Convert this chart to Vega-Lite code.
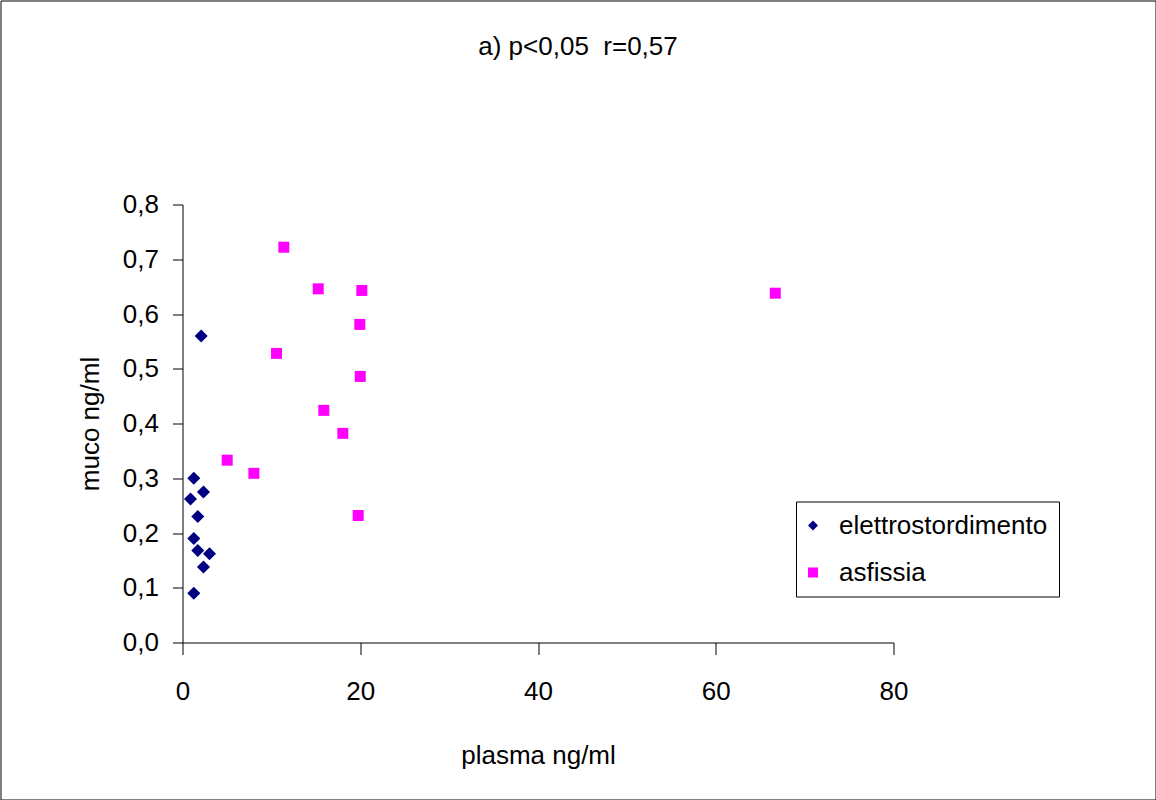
{
  "$schema": "https://vega.github.io/schema/vega-lite/v6.json",
  "width": 1155,
  "height": 799,
  "autosize": {"type": "none"},
  "padding": 0.5,
  "background": "white",
  "title": {
    "text": "a) p<0,05\u00a0 r=0,57",
    "anchor": "middle",
    "frame": "group",
    "orient": "top",
    "offset": -72,
    "baseline": "middle",
    "font": "Liberation Sans",
    "fontSize": 26,
    "fontWeight": "normal",
    "color": "black"
  },
  "config": {
    "view": {"stroke": "black", "strokeWidth": 1},
    "axis": {
      "grid": false,
      "domainColor": "black",
      "tickColor": "black",
      "labelColor": "black",
      "titleColor": "black",
      "labelFont": "Liberation Sans",
      "titleFont": "Liberation Sans",
      "labelFontSize": 26,
      "titleFontSize": 26,
      "titleFontWeight": "normal",
      "labelFlush": false,
      "labelOverlap": false
    },
    "legend": {
      "labelFont": "Liberation Sans",
      "labelFontSize": 26,
      "labelColor": "black",
      "labelLimit": 0
    }
  },
  "data": {
    "values": [
      {"gruppo": "elettrostordimento", "plasma": 2.1, "muco": 0.56},
      {"gruppo": "elettrostordimento", "plasma": 1.27, "muco": 0.3},
      {"gruppo": "elettrostordimento", "plasma": 2.36, "muco": 0.275},
      {"gruppo": "elettrostordimento", "plasma": 0.9, "muco": 0.262},
      {"gruppo": "elettrostordimento", "plasma": 1.72, "muco": 0.23},
      {"gruppo": "elettrostordimento", "plasma": 1.27, "muco": 0.19},
      {"gruppo": "elettrostordimento", "plasma": 1.72, "muco": 0.168},
      {"gruppo": "elettrostordimento", "plasma": 3.04, "muco": 0.162},
      {"gruppo": "elettrostordimento", "plasma": 2.36, "muco": 0.138},
      {"gruppo": "elettrostordimento", "plasma": 1.27, "muco": 0.09},
      {"gruppo": "asfissia", "plasma": 11.4, "muco": 0.722},
      {"gruppo": "asfissia", "plasma": 15.27, "muco": 0.646},
      {"gruppo": "asfissia", "plasma": 20.18, "muco": 0.643},
      {"gruppo": "asfissia", "plasma": 19.95, "muco": 0.581},
      {"gruppo": "asfissia", "plasma": 10.58, "muco": 0.528},
      {"gruppo": "asfissia", "plasma": 20.0, "muco": 0.486},
      {"gruppo": "asfissia", "plasma": 15.9, "muco": 0.424},
      {"gruppo": "asfissia", "plasma": 18.04, "muco": 0.382},
      {"gruppo": "asfissia", "plasma": 5.03, "muco": 0.333},
      {"gruppo": "asfissia", "plasma": 8.03, "muco": 0.309},
      {"gruppo": "asfissia", "plasma": 19.77, "muco": 0.232},
      {"gruppo": "asfissia", "plasma": 66.7, "muco": 0.638}
    ]
  },
  "encoding": {
    "x": {
      "field": "plasma",
      "type": "quantitative",
      "scale": {"domain": [0, 80], "range": [182, 893], "nice": false, "zero": false},
      "axis": {
        "title": "plasma ng/ml",
        "values": [0, 20, 40, 60, 80],
        "offset": -157,
        "tickSize": 12,
        "labelPadding": 24,
        "titleY": 113,
        "titleBaseline": "middle"
      }
    },
    "y": {
      "field": "muco",
      "type": "quantitative",
      "scale": {"domain": [0, 0.8], "range": [642, 204], "nice": false, "zero": false},
      "axis": {
        "title": "muco ng/ml",
        "values": [0, 0.1, 0.2, 0.3, 0.4, 0.5, 0.6, 0.7, 0.8],
        "labelExpr": "replace(format(datum.value, '.1f'), '.', ',')",
        "offset": -182,
        "tickSize": 10,
        "labelPadding": 14,
        "titleX": -92,
        "titleY": 423,
        "titleBaseline": "middle"
      }
    },
    "color": {
      "field": "gruppo",
      "type": "nominal",
      "scale": {"domain": ["elettrostordimento", "asfissia"], "range": ["#000080", "#FF00FF"]},
      "legend": {
        "title": null,
        "orient": "none",
        "legendX": 795.5,
        "legendY": 501,
        "strokeColor": "black",
        "padding": 11,
        "symbolSize": 100,
        "symbolOffset": -7,
        "symbolStrokeWidth": 0,
        "labelOffset": 13,
        "rowPadding": 21,
        "fillColor": "white"
      }
    },
    "shape": {
      "field": "gruppo",
      "type": "nominal",
      "scale": {"domain": ["elettrostordimento", "asfissia"], "range": ["diamond", "square"]}
    }
  },
  "layer": [
    {
      "transform": [{"filter": "datum.gruppo === 'elettrostordimento'"}],
      "mark": {"type": "point", "filled": true, "opacity": 1, "size": 170, "strokeWidth": 0}
    },
    {
      "transform": [{"filter": "datum.gruppo === 'asfissia'"}],
      "mark": {"type": "point", "filled": true, "opacity": 1, "size": 121, "strokeWidth": 0}
    }
  ]
}
